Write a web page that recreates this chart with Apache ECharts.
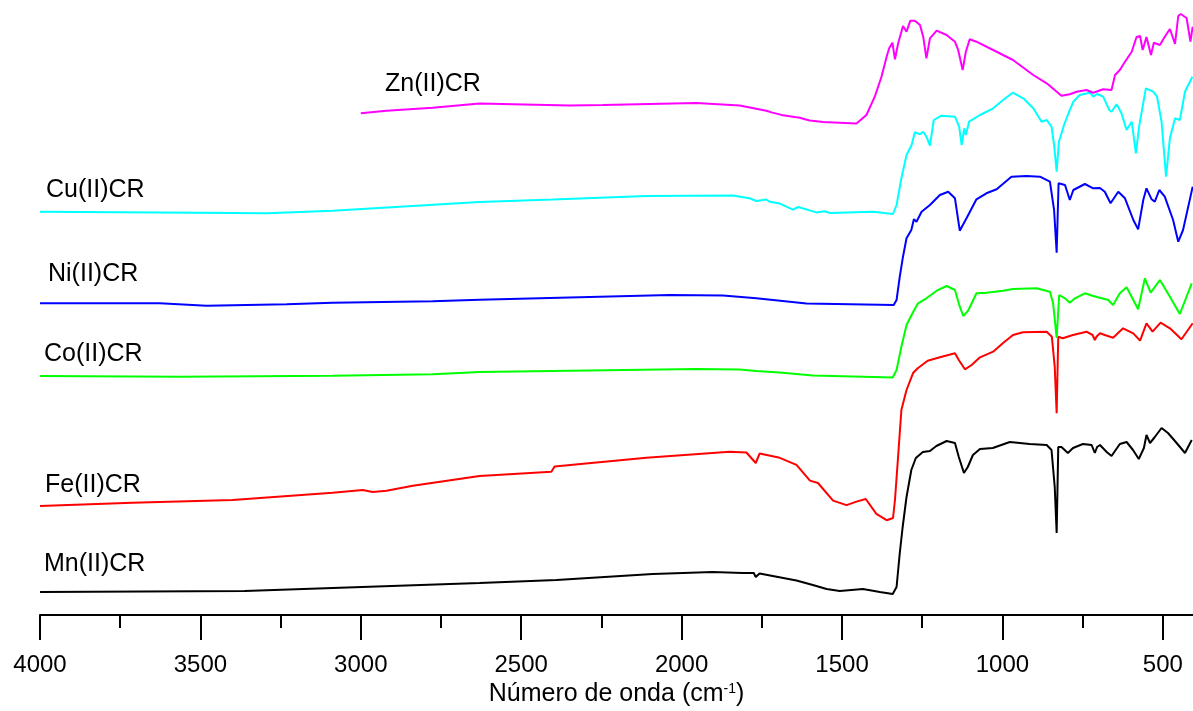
<!DOCTYPE html>
<html>
<head>
<meta charset="utf-8">
<title>FTIR CR complexes</title>
<script src="https://cdn.jsdelivr.net/npm/echarts@6/dist/echarts.min.js"></script>
<style>
  html, body { margin: 0; padding: 0; background: #fff; }
  #chart { width: 1193px; height: 711px; }
</style>
</head>
<body>
<div id="chart"></div>
<script>
// Wavenumber axis ticks (cm-1)
const majorTicks = [4000, 3500, 3000, 2500, 2000, 1500, 1000, 500];
const minorTicks = [3750, 3250, 2750, 2250, 1750, 1250, 750];

// Spectrum names (bottom to top)
const sampleNames = ['Mn(II)CR', 'Fe(II)CR', 'Co(II)CR', 'Ni(II)CR', 'Cu(II)CR', 'Zn(II)CR'];

// Offset transmittance (a.u.) vs wavenumber (cm-1): [wavenumber, value]
const mnSpectrum = [[4000,23],[3362,24],[2630,32],[2390,35],[2090,41],[1903,43],[1810,42],[1775,42],[1769,38],[1757,41.5],[1642,34.5],[1591,30],[1548,26],[1507,24],[1435,26],[1382,23],[1342,21],[1330,28],[1320,62],[1311,88],[1299,118],[1284,145],[1270,157],[1248,163],[1226,164],[1206,169],[1174,174],[1148,172],[1136,158],[1120,142],[1108,148],[1092,160],[1070,166],[1030,167],[977,173],[915,171],[862,170],[847,165],[837,128],[831,82],[826,168],[816,168],[796,162],[780,167],[749,171],[722,170],[712,162],[705,168],[696,170],[675,163],[660,159],[634,171],[613,173],[593,165],[575,156],[559,167],[551,180],[540,172],[525,178],[504,187],[484,182],[457,172],[431,162],[410,175]];

const feSpectrum = [[4000,109],[3712,112.3],[3400,115],[3088,122.3],[2994,125],[2963,123],[2920,124.3],[2838,129.3],[2630,139],[2406,143.2],[2396,148.5],[2110,157.2],[1850,163.2],[1798,162.5],[1769,152],[1757,161.4],[1694,157.2],[1642,150.2],[1600,134.4],[1575,132],[1528,114.4],[1486,109.9],[1455,113.4],[1426,116],[1393,101.1],[1361,94.8],[1341,97],[1335,115],[1326,155],[1315,205],[1299,225],[1278,242.3],[1264,246.7],[1233,254.3],[1195,257.7],[1148,261.7],[1136,255],[1117,245.7],[1096,250],[1070,257.7],[1029,263.3],[999,271.7],[967,280],[936,282.7],[862,283.3],[846,278.3],[837,248.3],[831,201.7],[826,278.3],[812,276.7],[780,280],[738,283.3],[719,280],[712,275],[707,278.3],[696,281.7],[681,280],[655,277.3],[624,286.7],[592,281.7],[571,274.3],[551,291.7],[532,283.3],[507,292.3],[478,286.7],[442,275.7],[407,291.7]];

const coSpectrum = [[4000,239],[3565,238.3],[3088,239.3],[2776,240.7],[2630,243],[1954,246],[1819,245.6],[1767,244],[1694,242.4],[1591,239.6],[1342,237.5],[1330,245],[1315,268.3],[1299,290],[1278,303.3],[1263,311.7],[1237,316.7],[1205,324.3],[1174,329],[1148,325],[1133,308.3],[1122,299],[1107,304.3],[1081,321.7],[1050,322.3],[998,324.3],[967,326],[894,326.7],[852,323.3],[842,311.7],[831,277],[823,320],[805,316.7],[790,312.3],[774,316.7],[743,321.7],[717,319],[670,315],[655,310],[634,321.7],[613,327.7],[577,305.7],[556,336.7],[538,322.3],[509,335],[478,318.3],[447,301],[410,331.7]];

const niSpectrum = [[4000,311.7],[3627,311.7],[3481,309.3],[3231,310.7],[3088,312.3],[2776,313.7],[2630,315.3],[2037,320],[1871,319.5],[1767,316.7],[1611,311.5],[1339,310],[1330,315],[1320,338.3],[1310,358.3],[1299,376.7],[1284,385],[1276,395.7],[1268,393.3],[1252,403.3],[1226,410],[1195,420],[1169,423.3],[1148,416.7],[1133,384.3],[1112,396.7],[1081,415.7],[1050,421.7],[1018,425.7],[972,438.3],[925,439],[883,438.3],[852,433.3],[839,405],[831,362.3],[825,431.7],[805,430],[790,415],[779,425],[743,431],[717,426.7],[696,427],[681,423.3],[663,411.7],[639,423.3],[618,416.7],[592,395],[577,385.7],[561,415],[551,426.7],[535,415.7],[525,413.3],[511,425],[494,418.3],[468,395],[452,373.3],[437,385],[407,428.3]];

const cuSpectrum = [[4000,403.3],[3512,402.3],[3294,401.7],[3088,404.3],[2879,408.3],[2630,413],[2402,415.6],[2110,419.1],[1841,419.5],[1788,416.7],[1767,414],[1736,415.5],[1725,413.2],[1694,411.4],[1653,405.4],[1637,408],[1580,402.6],[1554,403.7],[1538,402],[1403,403.3],[1341,401],[1330,410],[1315,436.7],[1299,460],[1283,470],[1273,482.7],[1257,480.7],[1247,483.3],[1237,478.3],[1226,469.3],[1214,495],[1190,499.3],[1148,498.3],[1135,488.3],[1127,470],[1119,486.7],[1114,480],[1104,493.3],[1070,500],[1029,506.7],[998,515],[968,522.3],[935,516.7],[904,506.7],[878,493.3],[862,495],[847,488.3],[839,470],[831,443.3],[824,473.3],[808,490],[792,503.3],[779,513.3],[759,520],[727,522.3],[717,518.3],[705,521],[686,518.3],[667,505],[660,503.3],[644,510.7],[629,501.7],[613,485],[597,493.3],[584,461.7],[574,488.3],[553,526.7],[530,523.3],[518,518.3],[504,493.3],[490,438.3],[478,476.7],[462,496.7],[447,495],[431,523.3],[408,538.3]];

const znSpectrum = [[3000,501.7],[2920,504.3],[2776,507.3],[2630,511.5],[2349,509.6],[2245,510],[1954,512],[1819,509.6],[1736,504.3],[1720,502.6],[1689,500.1],[1632,497.3],[1601,494.5],[1559,493],[1455,491.5],[1424,500],[1398,518.3],[1377,538.3],[1361,558.3],[1353,566.7],[1343,572.3],[1335,555.7],[1325,571.7],[1310,589],[1299,583.3],[1287,594.3],[1273,594.3],[1257,590],[1247,578.3],[1237,556.7],[1226,576.7],[1205,584.3],[1174,580],[1148,573.3],[1138,565],[1124,545],[1114,563.3],[1102,575.7],[1081,573.3],[1029,565],[967,555],[904,540],[862,531.7],[816,519.3],[790,520.7],[769,523.3],[738,525],[717,522.3],[686,525.7],[660,525],[649,540],[634,545],[618,553.3],[597,563.3],[582,578],[571,579],[563,565],[551,578],[537,560],[528,572.3],[509,570],[494,578.3],[478,586],[462,571],[452,599],[444,601],[426,597],[414,573.3],[407,588.3]];

const spectra = [mnSpectrum, feSpectrum, coSpectrum, niSpectrum, cuSpectrum, znSpectrum];
const lineColors = ['#000000', '#ff0000', '#00ff00', '#0000ff', '#00ffff', '#ff00ff'];

// Label anchor per spectrum: [left px, text middle px]
const labelSpots = [[44, 564], [45, 485], [44, 354], [48, 274], [46, 190], [385, 84]];

const FONT = "'Liberation Sans', Arial, Helvetica, sans-serif";

const chart = echarts.init(document.getElementById('chart'), null, { renderer: 'canvas' });

const xBase = {
  type: 'value',
  inverse: true,
  min: 406,
  max: 4000,
  splitLine: { show: false }
};

chart.setOption({
  animation: false,
  backgroundColor: '#ffffff',
  grid: { left: 40, right: 0, top: 0, bottom: 96, containLabel: false, outerBoundsMode: 'none' },
  xAxis: [
    Object.assign({}, xBase, {
      position: 'bottom',
      axisLine: { show: true, lineStyle: { color: '#000', width: 2 } },
      axisTick: { show: true, customValues: majorTicks, length: 25, inside: false, lineStyle: { color: '#000', width: 2 } },
      axisLabel: {
        show: true, customValues: majorTicks, color: '#000', fontSize: 24, fontFamily: FONT, margin: 38,
        formatter: (v) => String(v)
      },
      name: 'Número de onda (cm{sup|-1})',
      nameLocation: 'middle',
      nameGap: 57,
      nameTextStyle: {
        color: '#000', fontSize: 25, fontFamily: FONT,
        rich: { sup: { color: '#000', fontSize: 14, fontFamily: FONT, verticalAlign: 'top', lineHeight: 14 } }
      }
    }),
    Object.assign({}, xBase, {
      position: 'bottom',
      axisLine: { show: false },
      axisTick: { show: true, customValues: minorTicks, length: 13, inside: false, lineStyle: { color: '#000', width: 2 } },
      axisLabel: { show: false }
    })
  ],
  yAxis: {
    type: 'value', min: 0, max: 615, show: false,
    splitLine: { show: false }
  },
  series: spectra.map((data, i) => ({
    name: sampleNames[i],
    type: 'line',
    xAxisIndex: 0,
    data: data,
    showSymbol: false,
    symbol: 'none',
    smooth: false,
    clip: true,
    lineStyle: { color: lineColors[i], width: 2 },
    emphasis: { disabled: true }
  })),
  graphic: sampleNames.map((name, i) => ({
    type: 'text',
    x: labelSpots[i][0],
    y: labelSpots[i][1],
    style: {
      text: name,
      fill: '#000',
      font: '25px ' + FONT,
      align: 'left',
      verticalAlign: 'middle'
    }
  }))
});
</script>
</body>
</html>
